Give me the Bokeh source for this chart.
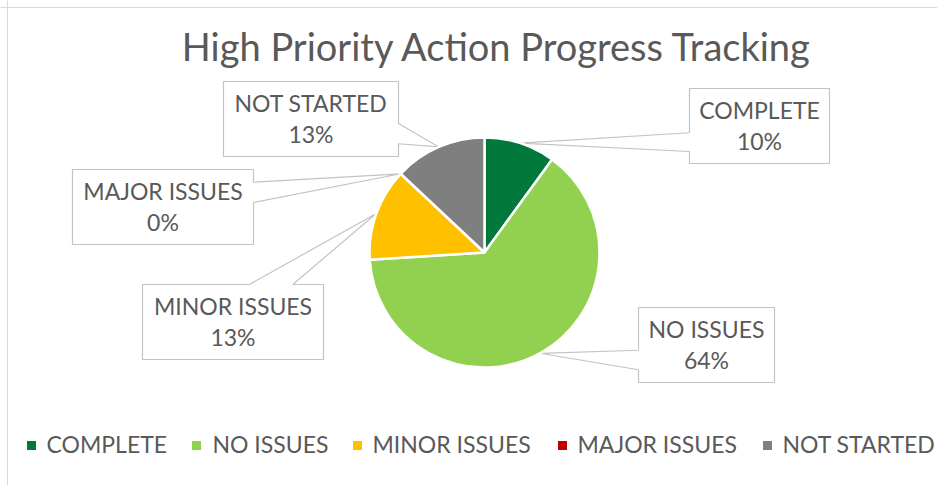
import math
from bokeh.plotting import figure
from bokeh.models import Range1d, Span, ColumnDataSource
from bokeh.embed import file_html
from bokeh.resources import INLINE
from bokeh.core.properties import value

# ---------------- data ----------------
title_text = "High Priority Action Progress Tracking"
categories = ["COMPLETE", "NO ISSUES", "MINOR ISSUES", "MAJOR ISSUES", "NOT STARTED"]
percent = [10, 64, 13, 0, 13]
colors = ["#00793A", "#92D050", "#FFC000", "#C00000", "#7F7F7F"]

# ---------------- layout (page pixel coordinates) ----------------
W, H = 937, 485
FONT = "Lato"
TXT = "#595959"
EDGE = "#C3C3C3"

def Y(py):
    return H - py

CX, CY, R = 484, Y(252), 115

# label boxes: (x0, y0, x1, y1) page coords, pointer side, base fractions
boxes = {
    "COMPLETE": ((689, 88, 829, 163), "left", (0.59, 0.84)),
    "NO ISSUES": ((638, 307, 774, 382), "left", (0.57, 0.83)),
    "MINOR ISSUES": ((142, 284, 323, 359), "top", (0.59, 0.83)),
    "MAJOR ISSUES": ((72, 169, 253, 244), "right", (0.17, 0.44)),
    "NOT STARTED": ((223, 81, 398, 156), "right", (0.56, 0.83)),
}
legend_marker_x = [31, 196, 357, 562, 767]
legend_text_x = [46, 212, 372, 577, 782]
legend_y = 443

p = figure(width=W, height=H, x_range=Range1d(0, W), y_range=Range1d(0, H),
           x_axis_type=None, y_axis_type=None,
           output_backend="svg", toolbar_location=None, min_border=0)
p.grid.visible = False
p.outline_line_color = None
p.background_fill_color = "white"
p.border_fill_color = "white"

# chart border (top and left edges visible)
p.add_layout(Span(location=Y(7), dimension="width", line_color="#D9D9D9", line_width=1))
p.add_layout(Span(location=7, dimension="height", line_color="#D9D9D9", line_width=1))

# title
p.text(x=[497], y=[Y(45)], text=[title_text], text_font=value(FONT),
       text_font_size="38px", text_color=TXT, text_align="center",
       text_baseline="middle")

# pie angles
total = float(sum(percent))
cum = [0.0]
for v in percent:
    cum.append(cum[-1] + v / total)
start = [math.pi / 2 - 2 * math.pi * c for c in cum[:-1]]
end = [math.pi / 2 - 2 * math.pi * c for c in cum[1:]]
mid = [(s + e) / 2 for s, e in zip(start, end)]

# callouts
xs, ys = [], []
for cat, m in zip(categories, mid):
    (x0, y0, x1, y1), side, (a, b) = boxes[cat]
    w, h = x1 - x0, y1 - y0
    tx = CX + R * math.cos(m)
    ty = H - (CY + R * math.sin(m))
    tip = [(tx, ty)]
    pts = [(x0, y0)]
    if side == "top":
        pts += [(x0 + a * w, y0)] + tip + [(x0 + b * w, y0)]
    pts += [(x1, y0)]
    if side == "right":
        pts += [(x1, y0 + a * h)] + tip + [(x1, y0 + b * h)]
    pts += [(x1, y1)]
    if side == "bottom":
        pts += [(x0 + b * w, y1)] + tip + [(x0 + a * w, y1)]
    pts += [(x0, y1)]
    if side == "left":
        pts += [(x0, y0 + b * h)] + tip + [(x0, y0 + a * h)]
    xs.append([q[0] for q in pts])
    ys.append([Y(q[1]) for q in pts])
p.patches(xs=xs, ys=ys, fill_color="white", line_color=EDGE, line_width=1.2)

# pie
keep = [i for i, v in enumerate(percent) if v > 0]
src = ColumnDataSource(dict(
    start=[start[i] for i in keep], end=[end[i] for i in keep],
    color=[colors[i] for i in keep], cat=[categories[i] for i in keep]))
p.wedge(x=CX, y=CY, radius=R, start_angle="start", end_angle="end",
        direction="clock", fill_color="color", line_color="white",
        line_width=2.5, source=src)

# label texts
l1x, l1y, l1t, l2x, l2y, l2t = [], [], [], [], [], []
for cat, v in zip(categories, percent):
    (x0, y0, x1, y1), _, _ = boxes[cat]
    cx, cy = (x0 + x1) / 2, (y0 + y1) / 2
    l1x.append(cx); l1y.append(Y(cy - 16)); l1t.append(cat)
    l2x.append(cx); l2y.append(Y(cy + 15)); l2t.append(f"{v}%")
p.text(x=l1x, y=l1y, text=l1t, text_font=value(FONT), text_font_size="23px",
       text_color=TXT, text_align="center", text_baseline="middle")
p.text(x=l2x, y=l2y, text=l2t, text_font=value(FONT), text_font_size="23px",
       text_color=TXT, text_align="center", text_baseline="middle")

# legend
p.rect(x=legend_marker_x, y=[Y(legend_y + 2)] * 5, width=9, height=9,
       fill_color=colors, line_color=None)
p.text(x=legend_text_x, y=[Y(legend_y)] * 5, text=categories,
       text_font=value(FONT), text_font_size="23px", text_color=TXT,
       text_align="left", text_baseline="middle")

open("out.html", "w").write(file_html(p, INLINE))
